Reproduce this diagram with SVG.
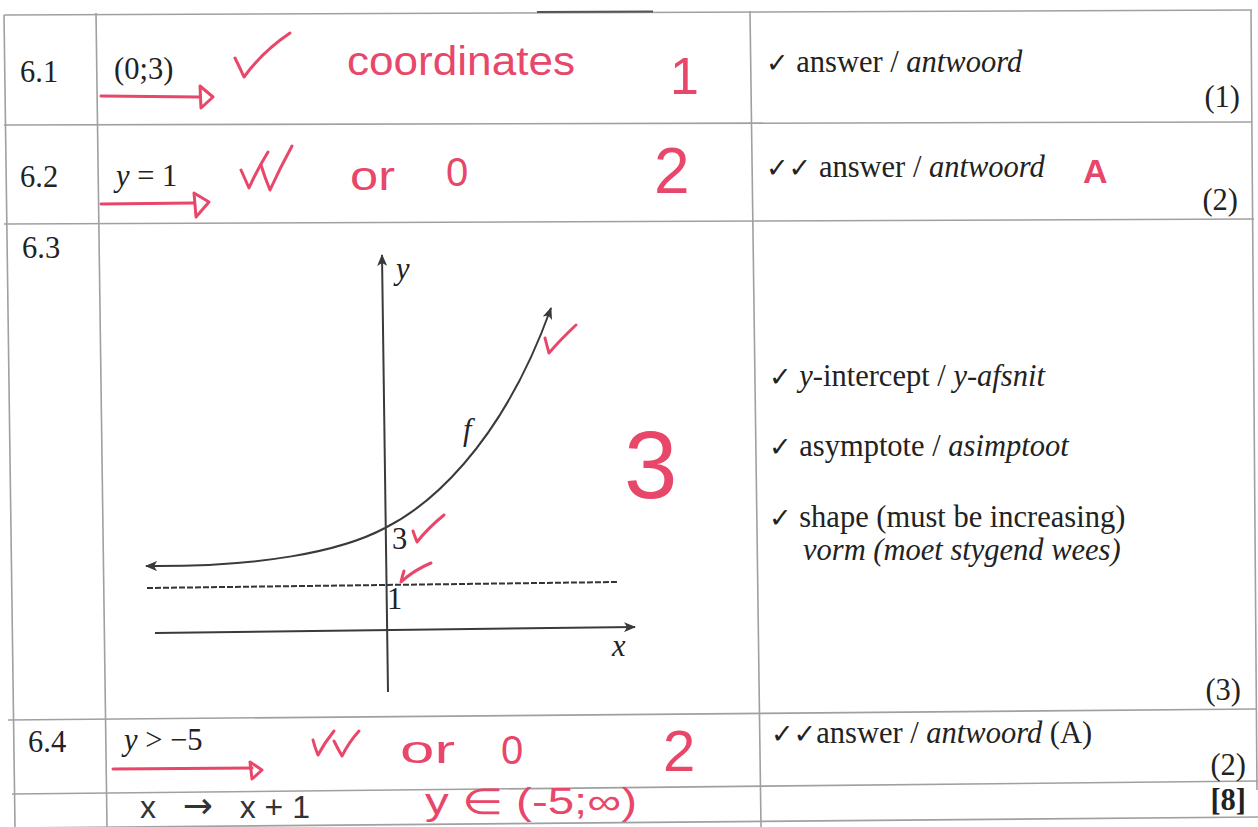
<svg xmlns="http://www.w3.org/2000/svg" width="1258" height="827" viewBox="0 0 1258 827">
<defs>
<style>
.grid{stroke:#a0a0a0;stroke-width:1.6;fill:none}
.t{font-family:"Liberation Serif","Times New Roman",serif;font-size:30.5px;fill:#222}
.i{font-style:italic}
.ck{font-family:"DejaVu Sans",sans-serif;font-size:27px}
.red{fill:#e8476a;font-family:"Liberation Sans","Noto Sans",sans-serif}
.rs{stroke:#e8476a;stroke-width:3;fill:none;stroke-linecap:round;stroke-linejoin:round}
.ax{stroke:#3a3a3a;stroke-width:2;fill:none}
.hw{fill:#333;font-family:"Liberation Sans","Noto Sans",sans-serif}
</style>
<marker id="ah" viewBox="0 0 12 10" refX="11" refY="5" markerWidth="12" markerHeight="10" markerUnits="userSpaceOnUse" orient="auto">
<path d="M0,0 L12,5 L0,10 L3,5 Z" fill="#3a3a3a"/>
</marker>
</defs>
<rect width="1258" height="827" fill="#fff"/>

<g id="table">
<line class="grid" x1="4" y1="15" x2="1252" y2="10"/>
<line x1="537" y1="12" x2="653" y2="11.5" stroke="#555" stroke-width="2"/>
<line class="grid" x1="4" y1="125" x2="1252" y2="122"/>
<line class="grid" x1="4" y1="224" x2="1254" y2="219"/>
<line class="grid" x1="8" y1="720" x2="1256" y2="709"/>
<line class="grid" x1="12" y1="794" x2="1258" y2="781"/>
<line class="grid" x1="14" y1="828" x2="1258" y2="817"/>
<line class="grid" x1="4" y1="15" x2="15" y2="827"/>
<line class="grid" x1="96" y1="13" x2="107" y2="827"/>
<line class="grid" x1="750" y1="11" x2="761" y2="827"/>
<line class="grid" x1="1251" y1="10" x2="1257" y2="790"/>
</g>

<g id="row61">
<text class="t" x="20" y="82">6.1</text>
<text class="t" x="114" y="79">(0;3)</text>
<path class="rs" d="M101,96 L200,97"/>
<path class="rs" d="M200,86 L213,97 L201,108 Z"/>
<path class="rs" d="M235,58 Q240,68 244,77 Q262,52 290,33"/>
<text class="red" x="347" y="75" font-size="40" textLength="228" lengthAdjust="spacingAndGlyphs">coordinates</text>
<text class="red" x="670" y="94" font-size="52">1</text>
<text class="t" x="766" y="72"><tspan class="ck">✓</tspan> answer / <tspan class="i">antwoord</tspan></text>
<text class="t" x="1240" y="107" text-anchor="end">(1)</text>
</g>

<g id="row62">
<text class="t" x="20" y="187">6.2</text>
<text class="t" x="116" y="186"><tspan class="i">y</tspan> = 1</text>
<path class="rs" d="M101,204 L194,203"/>
<path class="rs" d="M194,193 L209,202 L196,217 Z"/>
<path class="rs" d="M241,170 Q245,179 249,188 Q257,170 268,152"/>
<path class="rs" d="M261,165 Q265,178 270,190 Q280,168 292,146"/>
<text class="red" x="350" y="190" font-size="40" textLength="45" lengthAdjust="spacingAndGlyphs">or</text>
<text class="red" x="446" y="186" font-size="40">0</text>
<text class="red" x="654" y="193" font-size="64">2</text>
<text class="t" x="766" y="177"><tspan class="ck">✓✓</tspan> answer / <tspan class="i">antwoord</tspan></text>
<text class="red" x="1083" y="183" font-size="34" font-weight="bold">A</text>
<text class="t" x="1238" y="210" text-anchor="end">(2)</text>
</g>

<g id="row63">
<text class="t" x="22" y="258">6.3</text>
<g id="graph">
<line class="ax" x1="388" y1="692" x2="382" y2="255" marker-end="url(#ah)"/>
<line class="ax" x1="155" y1="633" x2="635" y2="627" marker-end="url(#ah)"/>
<line x1="147" y1="588" x2="618" y2="582" stroke="#333" stroke-width="2" stroke-dasharray="6,2"/>
<path class="ax" d="M385,528 C425,508 500,450 551,308" marker-end="url(#ah)"/>
<path class="ax" d="M385,528 C340,552 260,567 146,566" marker-end="url(#ah)"/>
<text class="t i" x="396" y="279" font-size="28">y</text>
<text class="t i" x="612" y="656" font-size="28">x</text>
<text class="t i" x="463" y="440" font-size="28">f</text>
<text class="t" x="392" y="549" font-size="22">3</text>
<text class="t" x="387" y="609" font-size="22">1</text>
</g>
<path class="rs" d="M545,338 Q547,346 549,353 Q560,340 576,325"/>
<path class="rs" d="M413,531 Q415,537 417,542 Q428,528 444,515"/>
<path class="rs" d="M404,571 Q402,577 401,582 Q414,570 431,563"/>
<text class="red" x="624" y="498" font-size="96">3</text>
<text class="t" x="769" y="386"><tspan class="ck">✓</tspan> <tspan class="i">y</tspan>-intercept / <tspan class="i">y-afsnit</tspan></text>
<text class="t" x="769" y="456"><tspan class="ck">✓</tspan> asymptote / <tspan class="i">asimptoot</tspan></text>
<text class="t" x="769" y="527"><tspan class="ck">✓</tspan> shape (must be increasing)</text>
<text class="t i" x="803" y="560">vorm (moet stygend wees)</text>
<text class="t" x="1241" y="700" text-anchor="end">(3)</text>
</g>

<g id="row64">
<text class="t" x="28" y="752">6.4</text>
<text class="t" x="124" y="750"><tspan class="i">y</tspan> &gt; −5</text>
<path class="rs" d="M113,769 L252,768"/>
<path class="rs" d="M250,762 L262,770 L252,779 Z"/>
<path class="rs" d="M313,740 Q315,748 318,755 Q325,742 334,731"/>
<path class="rs" d="M334,741 Q338,749 342,756 Q349,742 359,731"/>
<text class="red" x="400" y="763" font-size="38" textLength="55" lengthAdjust="spacingAndGlyphs">or</text>
<text class="red" x="501" y="764" font-size="40">0</text>
<text class="red" x="663" y="771" font-size="58">2</text>
<text class="t" x="771" y="743"><tspan class="ck">✓✓</tspan>answer / <tspan class="i">antwoord</tspan> (A)</text>
<text class="t" x="1246" y="775" text-anchor="end">(2)</text>
</g>

<g id="rowtotal">
<text class="hw" x="140" y="818" font-size="32" textLength="170" lengthAdjust="spacing">x <tspan font-size="36" font-family="DejaVu Sans, sans-serif">→</tspan> x+1</text>
<text class="red" x="425" y="814" font-size="36" textLength="212" lengthAdjust="spacingAndGlyphs">y ∈ (-5;∞)</text>
<text class="t" x="1246" y="810" text-anchor="end" font-weight="bold">[8]</text>
</g>
</svg>
